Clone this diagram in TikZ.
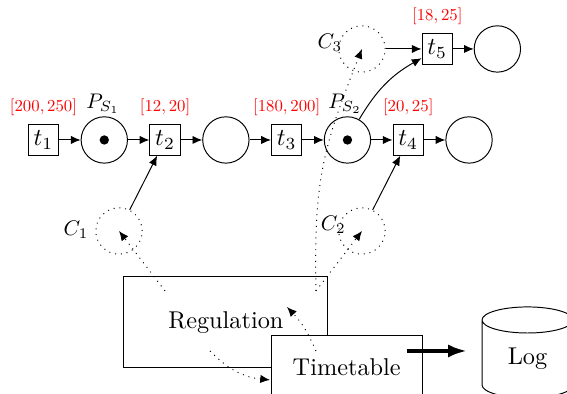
\documentclass[tikz,border=0pt]{standalone}
\usepackage{amsmath}
\usetikzlibrary{positioning}
\usetikzlibrary{arrows.meta, calc, shapes}
\usetikzlibrary{shapes.geometric}

\begin{document}
\begin{tikzpicture}
  [
    node distance=3.1mm,
    align=center
  ]
    \tikzset{
      >={Latex[width=3.4pt,length=4pt]},
      trans/.style = {rectangle, draw=black, minimum width=4.4mm, minimum height=4.4mm, inner sep=0pt},
      place/.style = {circle, draw=black, minimum size=6.7mm, inner sep=0pt},
      cond/.style = {place, dotted},
      token/.style = {circle, fill=black, minimum size=1.35mm, inner sep=0pt},
      interval/.style = {scale=0.69, text=red},
      pname/.style = {scale=0.87},
      component/.style = {rectangle, draw=black, fill=white, inner sep=0pt},
      logstyle/.style = {cylinder, shape border rotate=90, aspect=0.66, draw=black, fill=white,
                         minimum width=1.316cm, minimum height=1.316cm, inner sep=0pt},
      dottedarrow/.style = {->, dotted},
      heavyarrow/.style = {-{Latex[width=5.4pt,length=7.8pt]}, line width=1.6pt},
    }
    \useasboundingbox (-0.629,-3.673) rectangle (7.57,2.024);

    % main net
    \node (t1) [trans] {$t_1$};
    \node (ps1) [place, right=of t1] {};
    \node (t2) [trans, right=of ps1] {$t_2$};
    \node (p2) [place, right=of t2] {};
    \node (t3) [trans, right=of p2] {$t_3$};
    \node (ps2) [place, right=of t3] {};
    \node (t4) [trans, right=of ps2] {$t_4$};
    \node (p4) [place, right=of t4] {};

    \node (tok1) [token] at (ps1) {};
    \node (tok2) [token] at (ps2) {};

    % conditions
    \node (c1) [cond] at (1.092,-1.316) {};
    \node (c2) [cond] at (4.605,-1.316) {};
    \node (c3) [cond] at (4.605,1.316) {};
    \node (t5) [trans, right=5.2mm of c3] {$t_5$};
    \node (p5) [place, right=3mm of t5] {};

    % labels
    \node (i1) [interval, above=0.4mm of t1] {$[200,250]$};
    \node (i2) [interval, above=0.4mm of t2] {$[12,20]$};
    \node (i3) [interval, above=0.4mm of t3] {$[180,200]$};
    \node (i4) [interval, above=0.4mm of t4] {$[20,25]$};
    \node (i5) [interval, above=0.4mm of t5] {$[18,25]$};
    \node (n1) [pname] at (0.86,0.52) {$P_{S_1}$};
    \node (n2) [pname] at (4.36,0.52) {$P_{S_2}$};
    \node (l1) [pname] at (0.47,-1.30) {$C_1$};
    \node (l2) [pname] at (4.19,-1.23) {$C_2$};
    \node (l3) [pname] at (4.14,1.40) {$C_3$};

    % components
    \node (reg) [component, minimum width=2.95cm, minimum height=1.316cm] at (2.638,-2.634) {Regulation};
    \node (tt) [component, minimum width=2.18cm, minimum height=0.9cm] at (4.385,-3.283) {Timetable};
    \node (log) [logstyle] at (6.999,-3.17) {Log};

    \coordinate (regout1) at (1.757,-2.183);
    \coordinate (regout2) at (3.94,-2.183);
    \coordinate (regout3) at (2.408,-3.051);
    \coordinate (ttin) at (3.275,-3.47);
    \coordinate (ttout1) at (3.94,-3.051);
    \coordinate (regin) at (3.521,-2.415);
    \coordinate (ttout2) at (5.256,-3.051);
    \coordinate (login) at (6.124,-3.051);

    \draw[->] (t1) -- (ps1);
    \draw[->] (ps1) -- (t2);
    \draw[->] (t2) -- (p2);
    \draw[->] (p2) -- (t3);
    \draw[->] (t3) -- (ps2);
    \draw[->] (ps2) -- (t4);
    \draw[->] (t4) -- (p4);
    \draw[->] (c3) -- (t5);
    \draw[->] (t5) -- (p5);
    \draw[->] (c1) -- (t2);
    \draw[->] (c2) -- (t4);
    \draw[->] (ps2) to[bend left=15] (t5);

    \draw[dottedarrow] (regout1) -- (c1.center);
    \draw[dottedarrow] (regout2) -- (c2.center);
    \draw[dottedarrow] (regout2) .. controls +(-0.03,1.6) and +(-0.578,-1.46) .. (c3.center);
    \draw[dottedarrow] (regout3) to[bend right=20] (ttin);
    \draw[dottedarrow] (ttout1) to[bend right=10] (regin);
    \draw[heavyarrow] (ttout2) -- (login);
\end{tikzpicture}
\end{document}
